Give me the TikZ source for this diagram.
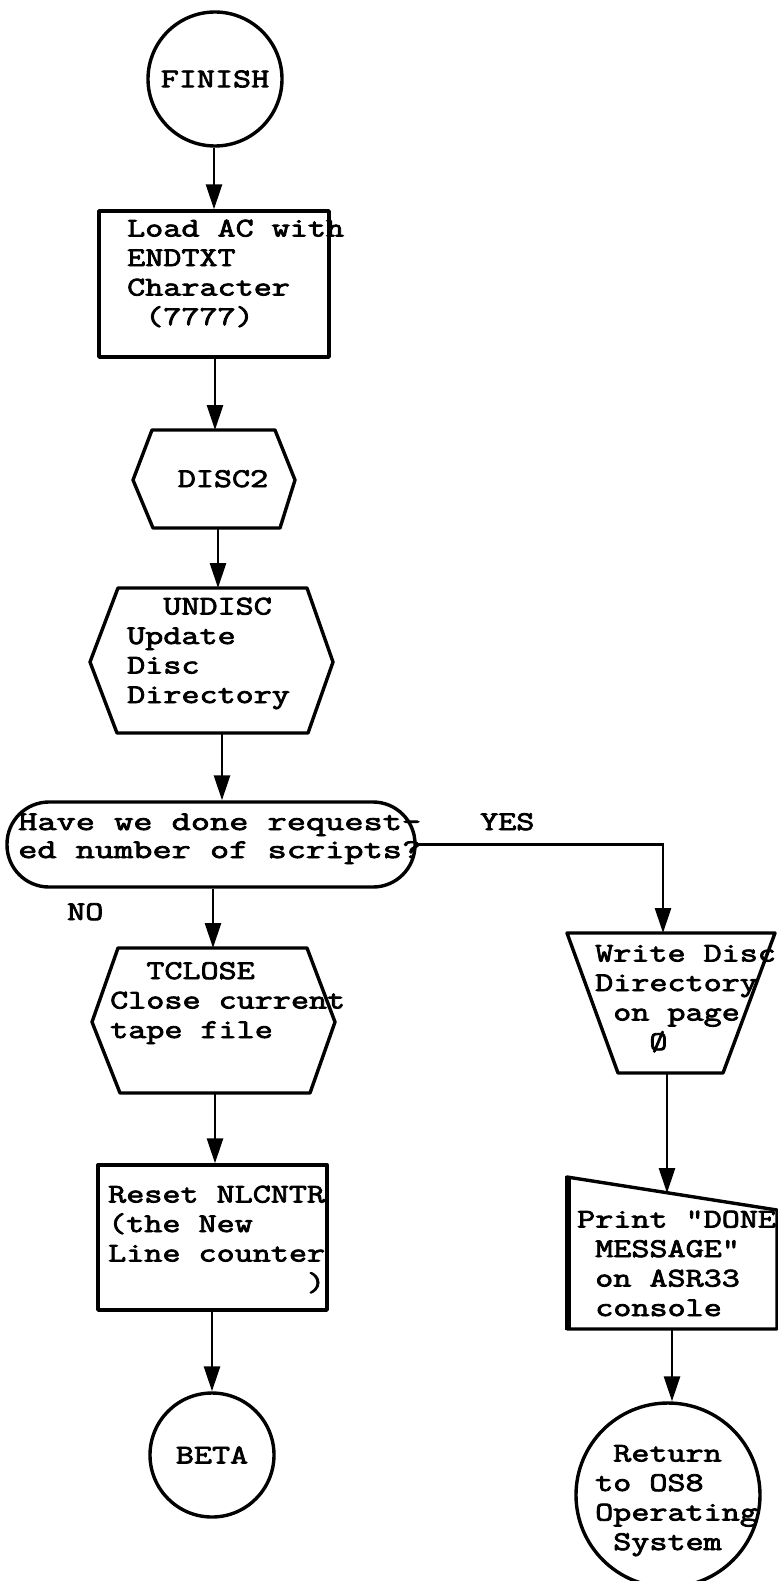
\documentclass[tikz,border=0pt]{standalone}
\usepackage{fontspec}
\newfontfamily\tw{Latin Modern Mono}[FakeStretch=1.3,FakeBold=3]
\newfontfamily\twwide{Latin Modern Mono}[FakeStretch=1.38,FakeBold=3]
\usetikzlibrary{arrows.meta}
\begin{document}
\begin{tikzpicture}[x=1pt,y=-1pt,
  shp/.style={draw, line width=3.4pt, line join=round, inner sep=0pt},
  arr/.style={line width=2.8pt, -{Triangle[length=25pt,width=16pt]}},
  txt/.style={font=\tw\fontsize{27}{29.5}\selectfont, inner sep=0pt, align=left, anchor=base west},
  ctxt/.style={font=\tw\fontsize{27}{29.5}\selectfont}]
\useasboundingbox (0,0) rectangle (778,1581);

% ---------- left column ----------
\node[shp, circle, minimum size=134pt, ctxt] (finish) at (215,79) {FINISH};
\node[shp, rectangle, minimum width=230pt, minimum height=146pt] (load) at (214,284) {};
\node[txt] (loadt) at (127,325) {Load AC with\\ENDTXT\\Character\\\phantom{x}(7777)};

% DISC2 hexagon
\coordinate (d2n) at (215,430);
\coordinate (d2s) at (218,528);
\draw[shp] (152,430) -- (275,430) -- (295,480) -- (280,528) -- (153,528) -- (133,480) -- cycle;
\node[ctxt, anchor=base] (d2t) at (223,487) {DISC2};

% UNDISC hexagon
\coordinate (udn) at (218,588);
\coordinate (uds) at (222,733);
\draw[shp] (118,588) -- (307,588) -- (333,662) -- (308,733) -- (117,733) -- (90,662) -- cycle;
\node[txt] (udt) at (127,703) {\phantom{xx}UNDISC\\Update\\Disc\\Directory};

% decision
\node[shp, rectangle, rounded corners=42pt, minimum width=408pt, minimum height=85pt] (dec) at (211,844.5) {};
\node[txt, font=\twwide\fontsize{27}{28}\selectfont] (dect) at (18,858) {Have we done request-\\ed number of scripts?};
\node[txt] (yes) at (480,830) {YES};
\node[txt] (no) at (67,920) {NO};

% TCLOSE hexagon
\coordinate (tcn) at (213,948);
\coordinate (tcs) at (215,1093);
\draw[shp] (118,948) -- (307,948) -- (335,1022) -- (310,1093) -- (120,1093) -- (92,1022) -- cycle;
\node[txt] (tct) at (110,1038) {\phantom{xx}TCLOSE\\Close current\\tape file};

% Reset box
\node[shp, rectangle, minimum width=229pt, minimum height=145pt] (reset) at (212.5,1237.5) {};
\node[txt] (resett) at (108,1291) {Reset NLCNTR\\(the New\\Line counter\\\phantom{xxxxxxxxxxx})};

\node[shp, circle, minimum size=124pt, ctxt] (beta) at (212,1455) {BETA};

% ---------- right column ----------
\coordinate (wrn) at (663,933);
\coordinate (wrs) at (667,1073);
\draw[shp] (567,933) -- (775,933) -- (723,1073) -- (618,1073) -- cycle;
\node[txt] (wrt) at (595,1050) {Write Disc\\Directory\\\phantom{x}on page\\\phantom{xxx}Ø};

\coordinate (prn) at (667,1193);
\coordinate (prs) at (672,1329);
\draw[shp] (567,1177) -- (777,1210) -- (777,1329) -- (567,1329) -- cycle;
\draw[line width=5.5pt] (568,1176) -- (568,1330);
\node[txt] (prt) at (577,1316) {Print "DONE\\\phantom{x}MESSAGE"\\\phantom{x}on ASR33\\\phantom{x}console};

\node[shp, circle, minimum size=184pt] (ret) at (668,1495) {};
\node[txt] (rett) at (595,1550) {\phantom{x}Return\\to OS8\\Operating\\\phantom{x}System};

% ---------- connectors ----------
\draw[arr] (finish.south -| load.north) -- (load.north);
\draw[arr] (load.south -| d2n) -- (d2n);
\draw[arr] (d2s) -- (d2s |- udn);
\draw[arr] (uds) -- (uds |- dec.north);
\draw[arr] (dec.south -| tcn) -- (tcn);
\draw[arr] (tcs) -- (tcs |- reset.north);
\draw[arr] (reset.south -| beta.north) -- (beta.north);
\draw[arr] (dec.east) -- (dec.east -| wrn) -- (wrn);
\draw[arr] (wrs) -- (prn);
\draw[arr] (prs) -- (prs |- ret.north);
\end{tikzpicture}
\end{document}
